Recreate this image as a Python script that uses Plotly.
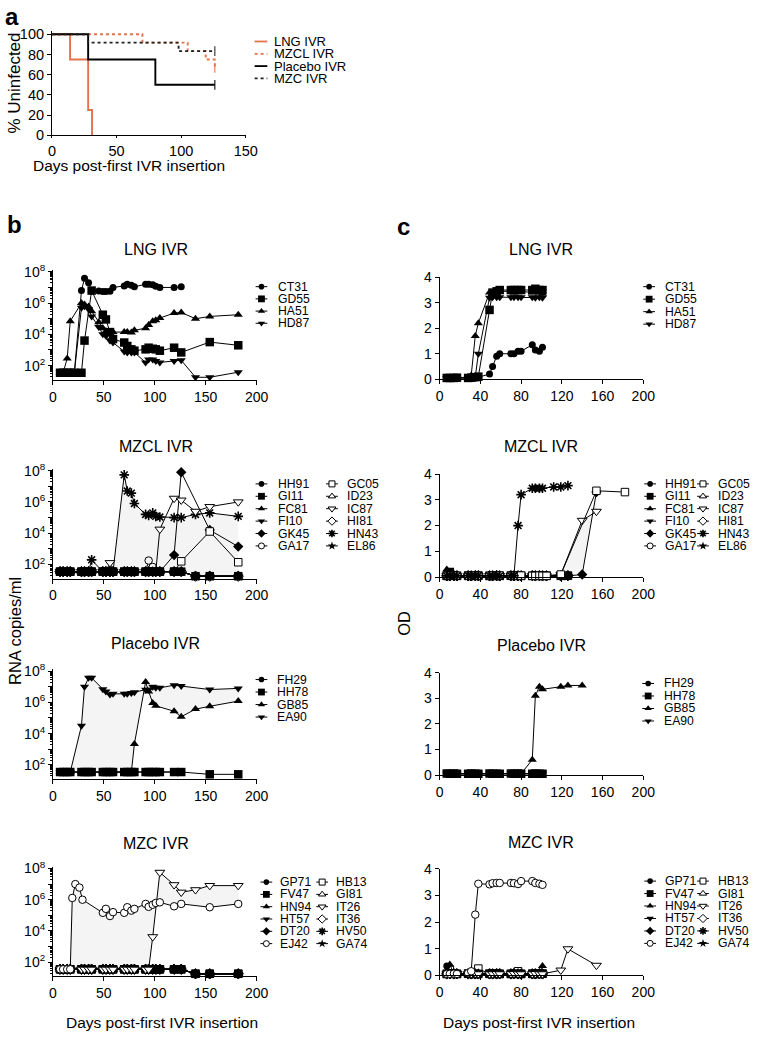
import plotly.graph_objects as go

W, H = 761, 1043
FONT = "Liberation Sans, Arial, Helvetica, sans-serif"
ORANGE = "#E4724C"
SHADE = "rgba(0,0,0,0.045)"

# ---------------- panel a : % uninfected ----------------
KM_GROUPS = ["LNG IVR", "MZCL IVR", "Placebo IVR", "MZC IVR"]
km_lng_days = [0, 14, 28, 31]
km_lng_pct = [100, 75, 25, 0]
km_mzcl_days = [0, 70, 105, 119, 126]
km_mzcl_pct = [100, 91.7, 83.3, 75, 66.7]
km_placebo_days = [0, 28, 80, 126]
km_placebo_pct = [100, 75, 50, 50]
km_mzc_days = [0, 28, 98, 126]
km_mzc_pct = [100, 91.7, 83.3, 83.3]

# ---------------- animals / symbols ----------------
LNG_NAMES = ["CT31", "GD55", "HA51", "HD87"]
LNG_SYMS = ["o", "s", "^", "v"]
MZCL_NAMES = ["HH91", "GI11", "FC81", "FI10", "GK45", "GA17", "GC05", "ID23", "IC87", "HI81", "HN43", "EL86"]
MZCL_SYMS = ["o", "s", "^", "v", "d", "O", "S", "A", "V", "D", "*", "+"]
PLAC_NAMES = ["FH29", "HH78", "GB85", "EA90"]
PLAC_SYMS = ["o", "s", "^", "v"]
MZC_NAMES = ["GP71", "FV47", "HN94", "HT57", "DT20", "EJ42", "HB13", "GI81", "IT26", "IT36", "HV50", "GA74"]
MZC_SYMS = ["o", "s", "^", "v", "d", "O", "S", "A", "V", "D", "*", "+"]

# ---------------- panel b : RNA copies/ml ----------------
lng_b_days = [7, 10, 14, 17, 21, 28, 31, 35, 38, 45, 49, 52, 56, 59, 70, 73, 77, 80, 91, 94, 98, 101, 105, 119, 126, 140, 154, 182]
lng_b_ct31 = [35, 35, 35, 35, 35, 6.3e6, 3.8e7, 2.0e7, 6.0e6, 6.0e6, 5.5e6, 5.5e6, 5.6e6, 1.0e7, 1.25e7, 1.6e7, 1.4e7, 1.1e7, 1.6e7, 1.6e7, 1.5e7, 1.2e7, 1.0e7, 1.0e7, 1.1e7, None, None, None]
lng_b_gd55 = [35, 35, 35, 35, 35, 35, 4.0e3, None, 6.3e6, None, 1.8e5, 9.0e4, 1.4e4, 5.0e3, 3.0e3, 1.8e3, 1.1e3, 900, 1.1e3, 1.4e3, 1.2e3, 1.1e3, 900, 1.4e3, 700, None, 3.2e3, 2.0e3]
lng_b_ha51 = [35, 35, 290, 7.0e4, None, 1.0e6, 8.0e5, 6.0e5, 3.0e5, 6.0e4, 2.5e4, 1.6e4, 1.4e4, 1.4e4, 1.4e4, 1.4e4, 1.3e4, 1.8e4, 2.5e4, 4.0e4, 7.0e4, 8.0e4, 1.1e5, 2.3e5, 2.5e5, 1.0e5, 1.4e5, 1.8e5]
lng_b_hd87 = [35, 35, 35, 35, 35, 5.0e5, 6.3e5, 4.0e5, 1.4e5, 3.0e4, 1.0e4, 8.0e3, 4.0e3, 3.0e3, 800, 700, 700, 700, 160, 250, 250, 200, 160, 200, 220, 18, 18, 38]

b_days = [7, 10, 14, 17, 28, 31, 35, 38, 49, 52, 56, 59, 70, 73, 77, 80, 91, 94, 98, 101, 105, 119, 126, 140, 154, 182]
mzcl_b_hh91 = [35, 35, 35, 35, 35, 35, 35, 35, 35, 35, 35, 35, 35, 35, 35, 35, 35, 35, 35, 35, 35, 35, 35, 18, 18, 18]
mzcl_b_gi11 = [35, 35, 35, 35, 35, 35, 35, 35, 35, 35, 35, 35, 35, 35, 35, 35, 35, 35, 35, 35, 35, 35, 35, 18, 18, 18]
mzcl_b_fc81 = [35, 35, 35, 35, 35, 35, 35, 35, 35, 35, 35, 35, 35, 35, 35, 35, 35, 35, 35, 35, 35, 35, 35, 18, 18, 18]
mzcl_b_fi10 = [35, 35, 35, 35, 35, 35, 35, 35, 35, 35, 35, 35, 35, 35, 35, 35, 35, 35, 35, 35, 35, 35, 35, 18, 18, 18]
mzcl_b_gk45 = [35, 35, 35, 35, 35, 35, 35, 35, 35, 35, 35, 35, 35, 35, 35, 35, 35, 35, 35, 35, 35, 400, 8.0e7, None, 1.6e4, 1.4e3]
mzcl_b_ga17 = [35, 35, 35, 35, 35, 35, 35, 35, 35, 35, 35, 35, 35, 35, 35, 35, 35, 180, 70, 35, 35, 35, 35, 18, 18, 18]
mzcl_b_gc05 = [35, 35, 35, 35, 35, 35, 35, 35, 35, 35, 35, 35, 35, 35, 35, 35, 35, 35, 35, 35, 35, 35, 160, None, 1.3e4, 140]
mzcl_b_id23 = [35, 35, 35, 35, 35, 35, 35, 35, 35, 35, 35, 35, 35, 35, 35, 35, 35, 35, 35, 35, 35, 35, 35, 18, 18, 18]
mzcl_b_ic87 = [35, 35, 35, 35, 35, 35, 35, 35, 35, 35, 130, 35, 35, 35, 35, 35, 35, 35, 35, 35, 1.8e4, 1.7e6, 1.3e6, 2.5e5, 5.0e5, 1.0e6]
mzcl_b_hi81 = [35, 35, 35, 35, 35, 35, 35, 35, 35, 35, 35, 35, 35, 35, 35, 35, 35, 35, 35, 35, 35, 35, 35, 18, 18, 18]
mzcl_b_hn43 = [35, 35, 35, 35, 35, 35, 35, 200, 35, 35, 35, 35, 5.4e7, 5.0e6, 3.7e6, 8.0e5, 1.6e5, 1.4e5, 2.0e5, 1.2e5, 1.1e5, 1.0e5, 1.0e5, 1.6e5, 2.0e5, 1.2e5]
mzcl_b_el86 = [35, 35, 35, 35, 35, 35, 35, 35, 35, 35, 35, 35, 35, 35, 35, 35, 35, 35, 35, 35, 35, 35, 35, 18, 18, 18]

plac_b_fh29 = [35, 35, 35, 35, 35, 35, 35, 35, 35, 35, 35, 35, 35, 35, 35, 35, 35, 35, 35, 35, 35, 35, 35, None, None, None]
plac_b_hh78 = [35, 35, 35, 35, 35, 35, 35, 35, 35, 35, 35, 35, 35, 35, 35, 35, 35, 35, 35, 35, 35, 35, 35, None, 25, 25]
plac_b_gb85 = [35, 35, 35, 35, 35, 35, 35, 35, 35, 35, 35, 35, 35, 35, 35, 2.2e3, 2.0e7, 5.0e6, 9.0e5, 6.0e5, None, 2.7e5, 1.2e5, 3.7e5, 5.6e5, 1.2e6]
plac_b_ea90 = [35, 35, 35, 35, 3.2e4, 1.0e7, 3.7e7, 3.7e7, 7.0e6, 5.0e6, 3.2e6, 3.5e6, 3.5e6, 3.5e6, 4.0e6, 4.5e6, 6.5e6, 6.5e6, 1.0e7, 8.5e6, 8.5e6, 1.25e7, 1.1e7, None, 6.6e6, 7.8e6]

mzc_b_gp71 = [35, 35, 35, 35, 35, 35, 35, 35, 35, 35, 35, 35, 35, 35, 35, 35, 35, 35, 35, 35, 35, 35, 35, 18, 18, 18]
mzc_b_fv47 = [35, 35, 35, 35, 35, 35, 35, 35, 35, 35, 35, 35, 35, 35, 35, 35, 35, 35, 35, 35, 35, 35, 35, 18, 18, 18]
mzc_b_hn94 = [35, 35, 35, 35, 35, 35, 35, 35, 35, 35, 35, 35, 35, 35, 35, 35, 35, 35, 35, 35, 35, 35, 35, 18, 18, 18]
mzc_b_ht57 = [35, 35, 35, 35, 35, 35, 35, 35, 35, 35, 35, 35, 35, 35, 35, 35, 35, 35, 35, 35, 35, 35, 35, 18, 18, 18]
mzc_b_dt20 = [35, 35, 35, 35, 35, 35, 35, 35, 35, 35, 35, 35, 35, 35, 35, 35, 35, 35, 35, 35, 35, 35, 35, 18, 18, 18]
mzc_b_ej42_days = [7, 10, 14, 17, 19, 22, 26, 29, 49, 52, 56, 59, 70, 73, 77, 80, 91, 94, 98, 101, 105, 119, 126, 154, 182]
mzc_b_ej42 = [35, 35, 35, 35, 1.3e6, 1.0e7, 6.0e6, 1.0e6, 1.45e5, 2.6e5, 9.0e4, 1.6e5, 1.45e5, 3.3e5, 2.0e5, 2.6e5, 5.4e5, 3.5e5, 4.8e5, 6.2e5, 6.8e5, 3.8e5, 5.4e5, 3.3e5, 5.4e5]
mzc_b_hb13 = [35, 35, 35, 35, 35, 35, 35, 35, 35, 35, 35, 35, 35, 35, 35, 35, 35, 35, 35, 35, 35, 35, 35, 18, 18, 18]
mzc_b_gi81 = [35, 35, 35, 35, 35, 35, 35, 35, 35, 35, 35, 35, 35, 35, 35, 35, 35, 35, 35, 35, 35, 35, 35, 18, 18, 18]
mzc_b_it26 = [35, 35, 35, 35, 35, 35, 35, 35, 35, 35, 35, 35, 35, 35, 35, 35, 35, 35, 4.2e3, None, 5.6e7, 9.0e6, 3.0e6, 4.3e6, 8.0e6, 8.0e6]
mzc_b_it36 = [35, 35, 35, 35, 35, 35, 35, 35, 35, 35, 35, 35, 35, 35, 35, 35, 35, 35, 35, 35, 35, 35, 35, 18, 18, 18]
mzc_b_hv50 = [35, 35, 35, 35, 35, 35, 35, 35, 35, 35, 35, 35, 35, 35, 35, 35, 35, 35, 35, 35, 35, 35, 35, 18, 18, 18]
mzc_b_ga74 = [35, 35, 35, 35, 35, 35, 35, 35, 35, 35, 35, 35, 35, 35, 35, 35, 35, 35, 35, 35, 35, 35, 35, 18, 18, 18]

# ---------------- panel c : OD ----------------
lng_c_days = [7, 10, 14, 17, 28, 31, 35, 38, 49, 52, 56, 59, 70, 73, 77, 80, 91, 94, 98, 101]
lng_c_ct31 = [0.05, 0.04, 0.06, 0.05, 0.05, 0.06, 0.05, 0.08, 0.2, 0.5, 0.9, 1.0, 1.0, 1.0, 1.1, 1.1, 1.35, 1.15, 1.1, 1.25]
lng_c_gd55 = [0.05, 0.05, 0.05, 0.06, 0.05, 0.06, 0.08, 0.1, 2.72, 3.4, 3.45, 3.5, 3.5, 3.5, 3.5, 3.5, 3.5, 3.55, 3.5, 3.5]
lng_c_ha51 = [0.05, 0.05, 0.06, 0.05, 0.06, 0.15, 1.7, 2.2, 3.4, 3.35, 3.4, 3.45, 3.45, 3.4, 3.45, 3.45, 3.4, 3.45, 3.4, 3.35]
lng_c_hd87 = [0.05, 0.05, 0.05, 0.05, 0.05, 0.06, 0.08, 1.0, 3.2, 3.22, 3.22, 3.22, 3.22, 3.22, 3.22, 3.22, 3.22, 3.2, 3.22, 3.2]

mzcl_c_days = [7, 10, 14, 17, 28, 31, 35, 38, 49, 52, 56, 59, 70, 73, 77, 80, 91, 94, 98, 101, 105, 112, 119, 126, 140, 154, 182]
mzcl_c_hh91 = [0.08, 0.1, 0.05, 0.06, 0.05, 0.06, 0.05, 0.07, 0.05, 0.05, 0.06, 0.05, 0.05, 0.06, 0.05, 0.05, 0.06, 0.05, 0.05, 0.06, 0.05, None, 0.06, 0.05, None, None, None]
mzcl_c_gi11 = [0.05, 0.2, 0.06, 0.05, 0.06, 0.05, 0.05, 0.06, 0.05, 0.06, 0.05, 0.05, 0.06, 0.05, 0.06, 0.05, 0.05, 0.06, 0.05, 0.05, 0.06, None, 0.05, 0.06, None, None, None]
mzcl_c_fc81 = [0.3, 0.08, 0.05, 0.05, 0.05, 0.06, 0.06, 0.05, 0.06, 0.05, 0.05, 0.06, 0.05, 0.05, 0.06, 0.06, 0.05, 0.05, 0.06, 0.05, 0.05, None, 0.06, 0.05, None, None, None]
mzcl_c_fi10 = [0.06, 0.05, 0.08, 0.05, 0.06, 0.05, 0.05, 0.05, 0.05, 0.06, 0.05, 0.05, 0.05, 0.06, 0.05, 0.05, 0.06, 0.05, 0.05, 0.05, 0.06, None, 0.05, 0.05, None, None, None]
mzcl_c_gk45 = [0.05, 0.06, 0.05, 0.06, 0.05, 0.05, 0.06, 0.05, 0.06, 0.05, 0.06, 0.05, 0.05, 0.05, 0.06, 0.05, 0.05, 0.06, 0.05, 0.06, 0.05, None, 0.05, 0.05, 0.1, 3.3, None]
mzcl_c_ga17 = [0.1, 0.05, 0.05, 0.06, 0.05, 0.06, 0.05, 0.05, 0.06, 0.05, 0.05, 0.05, 0.06, 0.05, 0.05, 0.06, 0.05, 0.06, 0.05, 0.05, 0.05, None, 0.06, 0.05, None, None, None]
mzcl_c_gc05 = [0.05, 0.05, 0.06, 0.05, 0.05, 0.05, 0.06, 0.05, 0.05, 0.06, 0.05, 0.06, 0.05, 0.05, 0.05, 0.06, 0.05, 0.05, 0.06, 0.05, 0.05, None, 0.1, None, None, 3.35, 3.3]
mzcl_c_id23 = [0.06, 0.05, 0.05, 0.05, 0.06, 0.05, 0.05, 0.06, 0.05, 0.05, 0.06, 0.05, 0.05, 0.06, 0.05, 0.05, 0.05, 0.06, 0.05, 0.05, 0.06, None, 0.05, 0.06, None, None, None]
mzcl_c_ic87 = [0.05, 0.06, 0.05, 0.05, 0.05, 0.06, 0.05, 0.05, 0.06, 0.05, 0.05, 0.06, 0.05, 0.05, 0.06, 0.05, 0.06, 0.05, 0.05, 0.06, 0.05, None, 0.1, None, 2.2, 2.55, None]
mzcl_c_hi81 = [0.05, 0.05, 0.06, 0.05, 0.05, 0.05, 0.06, 0.05, 0.05, 0.05, 0.06, 0.05, 0.06, 0.05, 0.05, 0.05, 0.06, 0.05, 0.06, 0.05, 0.05, None, 0.05, 0.06, None, None, None]
mzcl_c_hn43 = [0.05, 0.06, 0.05, 0.05, 0.06, 0.05, 0.05, 0.06, 0.05, 0.05, 0.06, 0.05, 0.05, 0.06, 2.0, 3.2, 3.45, 3.45, 3.45, 3.45, None, 3.5, 3.5, 3.55, None, None, None]
mzcl_c_el86 = [0.06, 0.05, 0.05, 0.06, 0.05, 0.05, 0.05, 0.06, 0.05, 0.06, 0.05, 0.05, 0.06, 0.05, 0.05, 0.05, 0.05, 0.06, 0.05, 0.05, 0.05, None, 0.06, 0.05, None, None, None]

plac_c_days = [7, 10, 14, 17, 28, 31, 35, 38, 49, 52, 56, 59, 70, 73, 77, 80, 91, 94, 98, 101, 119, 126, 140]
plac_c_fh29 = [0.05, 0.06, 0.05, 0.05, 0.06, 0.05, 0.05, 0.06, 0.05, 0.05, 0.06, 0.05, 0.05, 0.06, 0.05, 0.05, 0.06, 0.05, 0.05, 0.06, None, None, None]
plac_c_hh78 = [0.06, 0.05, 0.06, 0.05, 0.05, 0.06, 0.05, 0.05, 0.06, 0.05, 0.05, 0.05, 0.06, 0.05, 0.06, 0.05, 0.05, 0.06, 0.05, 0.05, None, None, None]
plac_c_gb85 = [0.05, 0.05, 0.05, 0.06, 0.05, 0.05, 0.06, 0.05, 0.05, 0.06, 0.05, 0.05, 0.05, 0.06, 0.05, 0.05, 0.6, 3.1, 3.45, 3.35, 3.45, 3.5, 3.5]
plac_c_ea90 = [0.05, 0.05, 0.06, 0.05, 0.05, 0.05, 0.06, 0.05, 0.06, 0.05, 0.05, 0.06, 0.05, 0.05, 0.05, 0.06, 0.05, 0.05, 0.06, 0.05, None, None, None]

mzc_c_days = [7, 10, 14, 17, 28, 31, 35, 38, 49, 52, 56, 59, 70, 73, 77, 80, 91, 94, 98, 101, 119, 126, 154]
mzc_c_gp71 = [0.35, 0.1, 0.05, 0.06, 0.05, 0.05, 0.06, 0.05, 0.05, 0.06, 0.05, 0.05, 0.06, 0.05, 0.05, 0.06, 0.05, 0.05, 0.06, 0.05, None, None, None]
mzc_c_fv47 = [0.05, 0.06, 0.05, 0.05, 0.06, 0.05, 0.05, 0.05, 0.06, 0.05, 0.05, 0.05, 0.05, 0.06, 0.05, 0.05, 0.05, 0.06, 0.05, 0.06, None, None, None]
mzc_c_hn94 = [0.1, 0.4, 0.06, 0.05, 0.05, 0.06, 0.05, 0.06, 0.05, 0.05, 0.1, 0.05, 0.06, 0.05, 0.1, 0.05, 0.06, 0.05, 0.1, 0.35, None, None, None]
mzc_c_ht57 = [0.06, 0.05, 0.05, 0.06, 0.05, 0.05, 0.05, 0.06, 0.05, 0.06, 0.05, 0.06, 0.05, 0.05, 0.06, 0.05, 0.05, 0.06, 0.05, 0.05, None, None, None]
mzc_c_dt20 = [0.05, 0.05, 0.06, 0.05, 0.06, 0.05, 0.06, 0.05, 0.05, 0.05, 0.06, 0.05, 0.05, 0.06, 0.05, 0.06, 0.05, 0.05, 0.05, 0.06, None, None, None]
mzc_c_ej42 = [0.05, 0.05, 0.06, 0.05, 0.08, 0.15, 2.28, 3.44, 3.42, 3.46, 3.47, 3.47, 3.47, 3.46, 3.43, 3.54, 3.54, 3.47, 3.44, 3.4, None, None, None]
mzc_c_hb13 = [0.05, 0.2, 0.05, 0.05, 0.06, 0.05, 0.05, 0.25, 0.05, 0.06, 0.05, 0.05, 0.05, 0.05, 0.15, 0.05, 0.06, 0.05, 0.05, 0.06, None, None, None]
mzc_c_gi81 = [0.06, 0.05, 0.05, 0.05, 0.05, 0.06, 0.05, 0.05, 0.06, 0.05, 0.05, 0.06, 0.05, 0.05, 0.05, 0.05, 0.06, 0.05, 0.05, 0.05, None, None, None]
mzc_c_it26 = [0.05, 0.05, 0.05, 0.06, 0.05, 0.05, 0.06, 0.05, 0.05, 0.05, 0.06, 0.05, 0.05, 0.06, 0.05, 0.05, 0.05, 0.06, 0.05, 0.05, 0.19, 0.99, 0.37]
mzc_c_it36 = [0.05, 0.06, 0.05, 0.06, 0.05, 0.05, 0.05, 0.05, 0.05, 0.05, 0.05, 0.06, 0.05, 0.06, 0.05, 0.05, 0.05, 0.05, 0.06, 0.05, None, None, None]
mzc_c_hv50 = [0.05, 0.05, 0.05, 0.05, 0.06, 0.05, 0.06, 0.05, 0.06, 0.05, 0.06, 0.05, 0.05, 0.05, 0.06, 0.05, 0.05, 0.06, 0.05, 0.05, None, None, None]
mzc_c_ga74 = [0.06, 0.05, 0.06, 0.05, 0.05, 0.05, 0.05, 0.06, 0.05, 0.05, 0.05, 0.05, 0.06, 0.05, 0.05, 0.06, 0.05, 0.05, 0.05, 0.06, None, None, None]

# ================= figure building =================
fig = go.Figure()

SYMBOLS = {
    "o": ("circle", "black"), "s": ("square", "black"), "^": ("triangle-up", "black"),
    "v": ("triangle-down", "black"), "d": ("diamond", "black"),
    "O": ("circle", "white"), "S": ("square", "white"), "A": ("triangle-up", "white"),
    "V": ("triangle-down", "white"), "D": ("diamond", "white"),
    "*": ("asterisk-open", "black"), "+": ("star", "black"),
}
SIZES = {"o": 7, "s": 8.5, "^": 8, "v": 8, "d": 8, "O": 7.5, "S": 7.5, "A": 8, "V": 8.5, "D": 8, "*": 8, "+": 8}


def marker_style(key, scale=1.0):
    sym, col = SYMBOLS[key]
    if key == "*":
        return dict(symbol=sym, size=SIZES[key] * scale, color="black", line=dict(color="black", width=1.6))
    return dict(symbol=sym, size=SIZES[key] * scale, color=col,
                line=dict(color="black", width=1 if col == "white" else 0))


def ref(kind, n):
    return kind if n == 1 else f"{kind}{n}"


def add_series(n, days, vals, key, fill=None):
    fig.add_trace(go.Scatter(
        x=days, y=vals, mode="lines+markers", line=dict(color="black", width=1),
        marker=marker_style(key), connectgaps=True, cliponaxis=False, showlegend=False,
        fill=fill if fill else "none", fillcolor=SHADE, hoverinfo="skip",
        xaxis=ref("x", n), yaxis=ref("y", n)))


base_axis = dict(showline=True, linecolor="black", linewidth=1, ticks="outside", ticklen=4,
                 tickwidth=1, tickcolor="black", showgrid=False, zeroline=False, fixedrange=True)


def make_axes(n, x0, x1, top, bottom, xrange, xticks, yrange, yticks, ytext=None, ylog=False, fs=14, xticklen=4):
    tf = dict(family=FONT, size=fs, color="black")
    xa = dict(base_axis, domain=[x0 / W, x1 / W], range=xrange, tickmode="array", tickvals=xticks,
              anchor=ref("y", n), tickfont=tf, ticklen=xticklen)
    ya = dict(base_axis, domain=[1 - bottom / H, 1 - top / H], range=yrange, anchor=ref("x", n),
              tickfont=tf, tickmode="array", tickvals=yticks)
    if ylog:
        ya.update(type="log", ticktext=ytext,
                  minor=dict(ticks="outside", ticklen=2, tickcolor="black", dtick="D1", showgrid=False))
    fig.update_layout({("xaxis" if n == 1 else f"xaxis{n}"): xa, ("yaxis" if n == 1 else f"yaxis{n}"): ya})


# ---- panel a ----
make_axes(1, 49, 247, 23.3, 129.3, [0, 150], [0, 50, 100, 150], [0, 103.3], [0, 20, 40, 60, 80, 100],
          fs=14.5, xticklen=2)
km_sets = [
    (km_lng_days, km_lng_pct, ORANGE, "solid", False),
    (km_mzcl_days, km_mzcl_pct, ORANGE, "dot", True),
    (km_placebo_days, km_placebo_pct, "black", "solid", True),
    (km_mzc_days, km_mzc_pct, "#222222", "dot", True),
]
for d, p, c, dash, tick in km_sets:
    sizes = [0] * (len(d) - 1) + [7 if tick else 0]
    fig.add_trace(go.Scatter(x=d, y=p, mode="lines+markers", line=dict(color=c, width=1.9, dash=dash, shape="hv"),
                             marker=dict(symbol="line-ns-open", size=sizes, line=dict(color=c, width=1.5)),
                             cliponaxis=False, showlegend=False, hoverinfo="skip", xaxis="x", yaxis="y"))

# ---- panel b (log RNA) ----
LOGT = [1e2, 1e3, 1e4, 1e5, 1e6, 1e7, 1e8]
LOGL = ["10<sup>2</sup>", "", "10<sup>4</sup>", "", "10<sup>6</sup>", "", "10<sup>8</sup>"]
BX = (50, 258)
b_boxes = [(266, 377.5), (468, 579.5), (671.5, 783), (872, 983.3)]
for i, (t, bt) in enumerate(b_boxes):
    make_axes(2 + i, BX[0], BX[1], t, bt, [0, 200], [0, 50, 100, 150, 200], [1.1, 8.12], LOGT, LOGL, ylog=True)

# LNG
add_series(2, lng_b_days, lng_b_hd87, "v")
add_series(2, lng_b_days, lng_b_ha51, "^")
add_series(2, lng_b_days, lng_b_ct31, "o")
add_series(2, lng_b_days, lng_b_gd55, "s")
# MZCL
add_series(3, b_days, mzcl_b_hi81, "D")
add_series(3, b_days, mzcl_b_id23, "A")
add_series(3, b_days, mzcl_b_ga17, "O")
add_series(3, b_days, mzcl_b_el86, "+")
add_series(3, b_days, mzcl_b_hn43, "*", fill="tonexty")
add_series(3, b_days, mzcl_b_fc81, "^")
add_series(3, b_days, mzcl_b_fi10, "v")
add_series(3, b_days, mzcl_b_hh91, "o")
add_series(3, b_days, mzcl_b_gk45, "d")
add_series(3, b_days, mzcl_b_gc05, "S")
add_series(3, b_days, mzcl_b_ic87, "V")
add_series(3, b_days, mzcl_b_gi11, "s")
# Placebo
add_series(4, b_days, plac_b_gb85, "^")
add_series(4, b_days, plac_b_ea90, "v", fill="tonexty")
add_series(4, b_days, plac_b_fh29, "o")
add_series(4, b_days, plac_b_hh78, "s")
# MZC
add_series(5, b_days, mzc_b_it36, "D")
add_series(5, b_days, mzc_b_gi81, "A")
add_series(5, b_days, mzc_b_hb13, "S")
add_series(5, b_days, mzc_b_ga74, "+")
add_series(5, b_days, mzc_b_hv50, "*")
add_series(5, b_days, mzc_b_hn94, "^")
add_series(5, b_days, mzc_b_ht57, "v")
add_series(5, b_days, mzc_b_dt20, "d")
add_series(5, b_days, mzc_b_gp71, "o")
add_series(5, b_days, mzc_b_fv47, "s")
add_series(5, b_days, mzc_b_it26, "V")
add_series(5, mzc_b_ej42_days, mzc_b_ej42, "O", fill="tonexty")

# ---- panel c (OD) ----
CX = (445, 653)
c_boxes = [(273.5, 377), (473.3, 578), (675, 779), (874.3, 982.3)]
for i, (t, bt) in enumerate(c_boxes):
    make_axes(6 + i, CX[0], CX[1], t, bt, [0, 200], [0, 40, 80, 120, 160, 200], [0, 4], [0, 1, 2, 3, 4])

add_series(6, lng_c_days, lng_c_ct31, "o")
add_series(6, lng_c_days, lng_c_hd87, "v")
add_series(6, lng_c_days, lng_c_ha51, "^")
add_series(6, lng_c_days, lng_c_gd55, "s")

add_series(7, mzcl_c_days, mzcl_c_hi81, "D")
add_series(7, mzcl_c_days, mzcl_c_id23, "A")
add_series(7, mzcl_c_days, mzcl_c_ga17, "O")
add_series(7, mzcl_c_days, mzcl_c_el86, "+")
add_series(7, mzcl_c_days, mzcl_c_fc81, "^")
add_series(7, mzcl_c_days, mzcl_c_fi10, "v")
add_series(7, mzcl_c_days, mzcl_c_hh91, "o")
add_series(7, mzcl_c_days, mzcl_c_gi11, "s")
add_series(7, mzcl_c_days, mzcl_c_gk45, "d")
add_series(7, mzcl_c_days, mzcl_c_ic87, "V", fill="tonexty")
add_series(7, mzcl_c_days, mzcl_c_gc05, "S")
add_series(7, mzcl_c_days, mzcl_c_hn43, "*")

add_series(8, plac_c_days, plac_c_ea90, "v")
add_series(8, plac_c_days, plac_c_fh29, "o")
add_series(8, plac_c_days, plac_c_hh78, "s")
add_series(8, plac_c_days, plac_c_gb85, "^")

add_series(9, mzc_c_days, mzc_c_it36, "D")
add_series(9, mzc_c_days, mzc_c_gi81, "A")
add_series(9, mzc_c_days, mzc_c_hb13, "S")
add_series(9, mzc_c_days, mzc_c_ga74, "+")
add_series(9, mzc_c_days, mzc_c_hv50, "*")
add_series(9, mzc_c_days, mzc_c_hn94, "^")
add_series(9, mzc_c_days, mzc_c_ht57, "v")
add_series(9, mzc_c_days, mzc_c_dt20, "d")
add_series(9, mzc_c_days, mzc_c_gp71, "o")
add_series(9, mzc_c_days, mzc_c_fv47, "s")
add_series(9, mzc_c_days, mzc_c_it26, "V")
add_series(9, mzc_c_days, mzc_c_ej42, "O")

# ---- hand-drawn legends on a pixel overlay axis ----
fig.update_layout({
    "xaxis10": dict(domain=[0, 1], range=[0, W], visible=False, anchor="y10", fixedrange=True),
    "yaxis10": dict(domain=[0, 1], range=[H, 0], visible=False, anchor="x10", fixedrange=True),
})
annotations = []


def txt(x, y, s, size=12.5, xanchor="left", angle=0, bold=False):
    annotations.append(dict(x=x / W, y=1 - y / H, xref="paper", yref="paper", text=("<b>%s</b>" % s) if bold else s,
                            showarrow=False, xanchor=xanchor, yanchor="middle", textangle=angle,
                            font=dict(family=FONT, size=size, color="black")))


# legend a
leg_a_y0, leg_a_dy = 34, 12.5
for i, (name, (d, p, c, dash, tick)) in enumerate(zip(KM_GROUPS, km_sets)):
    yy = leg_a_y0 + i * leg_a_dy
    fig.add_trace(go.Scatter(x=[256, 269], y=[yy, yy], mode="lines", line=dict(color=c, width=1.8, dash=dash),
                             showlegend=False, hoverinfo="skip", xaxis="x10", yaxis="y10"))
    txt(274, yy, name, size=13)

legend_specs = [
    (LNG_NAMES, LNG_SYMS, [263], [278], 283, 12.4),
    (MZCL_NAMES, MZCL_SYMS, [263, 335], [278, 348], 483.3, 12.6),
    (PLAC_NAMES, PLAC_SYMS, [263], [277], 682, 12.7),
    (MZC_NAMES, MZC_SYMS, [268, 325], [280, 337], 887.7, 12.5),
    (LNG_NAMES, LNG_SYMS, [659], [673], 283, 12.7),
    (MZCL_NAMES, MZCL_SYMS, [660, 714], [673, 727], 483.3, 12.6),
    (PLAC_NAMES, PLAC_SYMS, [658], [672], 686, 12.7),
    (MZC_NAMES, MZC_SYMS, [660, 714], [673, 727], 886.7, 12.65),
]
for names, syms, mxs, txs, y0, dy in legend_specs:
    rows = 6 if len(names) > 6 else len(names)
    for i, (nm, key) in enumerate(zip(names, syms)):
        col, row = divmod(i, rows)
        yy = y0 + row * dy
        mx = mxs[col]
        fig.add_trace(go.Scatter(x=[mx - 6, mx + 6], y=[yy, yy], mode="lines", line=dict(color="black", width=1),
                                 showlegend=False, hoverinfo="skip", xaxis="x10", yaxis="y10"))
        fig.add_trace(go.Scatter(x=[mx], y=[yy], mode="markers", marker=marker_style(key, 0.8),
                                 showlegend=False, hoverinfo="skip", xaxis="x10", yaxis="y10"))
        txt(txs[col], yy, nm, size=12.2)

# panel letters
txt(8, 9, "a", size=24, xanchor="center", bold=True)
txt(11, 220, "b", size=24, xanchor="center", bold=True)
txt(408, 222, "c", size=24, xanchor="center", bold=True)

# titles
for y, t in zip([245, 445, 645, 849], ["LNG IVR", "MZCL IVR", "Placebo IVR", "MZC IVR"]):
    txt(155, y, t, size=16, xanchor="center")
for y, t in zip([245, 445, 647, 848], ["LNG IVR", "MZCL IVR", "Placebo IVR", "MZC IVR"]):
    txt(549, y, t, size=16, xanchor="center")

# axis titles
txt(11, 76, "% Uninfected", size=17, xanchor="center", angle=-90)
txt(128, 160, "Days post-first IVR insertion", size=15.5, xanchor="center")
txt(12, 633, "RNA copies/ml", size=16.5, xanchor="center", angle=-90)
txt(409, 625, "OD", size=16.5, xanchor="center", angle=-90)
txt(161, 1030, "Days post-first IVR insertion", size=15.5, xanchor="center")
txt(546, 1030, "Days post-first IVR insertion", size=15.5, xanchor="center")

fig.update_layout(
    width=W, height=H, margin=dict(l=0, r=0, t=0, b=0),
    paper_bgcolor="white", plot_bgcolor="rgba(0,0,0,0)",
    showlegend=False, annotations=annotations,
    font=dict(family=FONT, color="black"),
)

fig.write_html("out.html", config={"displayModeBar": False},
               post_script="document.body.style.margin='0';document.body.style.overflow='hidden';")
